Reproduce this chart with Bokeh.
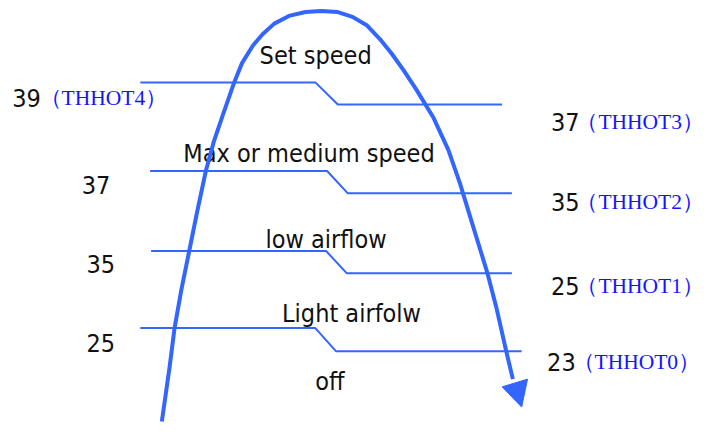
from bokeh.plotting import figure
from bokeh.models import Range1d
from bokeh.core.properties import value
from bokeh.embed import file_html
from bokeh.resources import INLINE

# ---- content (texts / values) ----
left_values = ["39", "37", "35", "25"]
right_values = ["37", "35", "25", "23"]
sensor_tags = ["（THHOT4）", "（THHOT3）", "（THHOT2）", "（THHOT1）", "（THHOT0）"]
zone_names = ["Set speed", "Max or medium speed", "low airflow", "Light airfolw", "off"]

# ---- layout in reference-pixel space (y grows downward) ----
left_x = [12, 83, 88, 88]
left_base = [101, 192, 273, 355]
right_x = [563, 563, 563, 559]
right_base = [126, 209, 296, 375]
tag_x = [40, 589, 589, 589, 585]
tag_base = [101, 126, 209, 296, 375]
zone_x = [265, 187, 271, 288, 322]
zone_base = [57, 159, 248, 325, 395]

# threshold step lines: start, bend, drop end, right end; high / low level
step_x0 = [143, 153, 154, 143]
step_bend = [322, 334, 333, 322]
step_drop = [345, 355, 354, 343]
step_x1 = [513, 523, 523, 533]
step_hi = [85, 177, 260, 340]
step_lo = [108, 200, 283, 364]

# arching arrow path
curve_x = [165, 173, 178, 185, 193, 201, 210, 218, 227, 239, 247, 258, 268, 280, 295, 312,
           328, 345, 360, 375, 388, 400, 412, 425, 443, 458, 470, 482, 498, 507, 517, 524]
curve_y = [437, 380, 340, 300, 260, 220, 177, 147, 120, 85, 65, 47, 35, 24, 16, 12,
           11, 12, 17, 26, 40, 55, 72, 92, 122, 155, 190, 230, 283, 318, 363, 393]
head_x = [513, 539, 533]
head_y = [401, 393, 422]

BLUE = "#3366ff"
TAG_BLUE = "#1414ff"
INK = "#111111"
SANS = value("DejaVu Sans Condensed")
SERIF = value("Liberation Serif")

p = figure(width=704, height=422, x_range=Range1d(0, 720), y_range=Range1d(438, 0),
           output_backend="svg", toolbar_location=None, min_border=0,
           x_axis_location=None, y_axis_location=None)
p.grid.grid_line_color = None
p.outline_line_color = None
p.background_fill_color = "white"
p.border_fill_color = "white"

# texts
common = dict(text_baseline="alphabetic", text_color=INK, text_font=SANS,
              text_font_size="25px", text_align="left")
p.text(x=left_x, y=left_base, text=left_values, **common)
p.text(x=right_x, y=right_base, text=right_values, **common)
p.text(x=zone_x, y=zone_base, text=zone_names, **common)
p.text(x=tag_x, y=tag_base, text=sensor_tags, text_font=SERIF, text_font_size="21.5px",
       text_baseline="alphabetic", text_align="left", text_color=TAG_BLUE)

# step lines
xs = [[a, b, c, d] for a, b, c, d in zip(step_x0, step_bend, step_drop, step_x1)]
ys = [[h, h, l, l] for h, l in zip(step_hi, step_lo)]
p.multi_line(xs=xs, ys=ys, line_color=BLUE, line_width=2)

# arching arrow
p.line(curve_x, curve_y, line_color=BLUE, line_width=4, line_join="round")
p.patch(head_x, head_y, fill_color=BLUE, line_color=BLUE, line_width=1)

open("out.html", "w").write(file_html(p, INLINE))
